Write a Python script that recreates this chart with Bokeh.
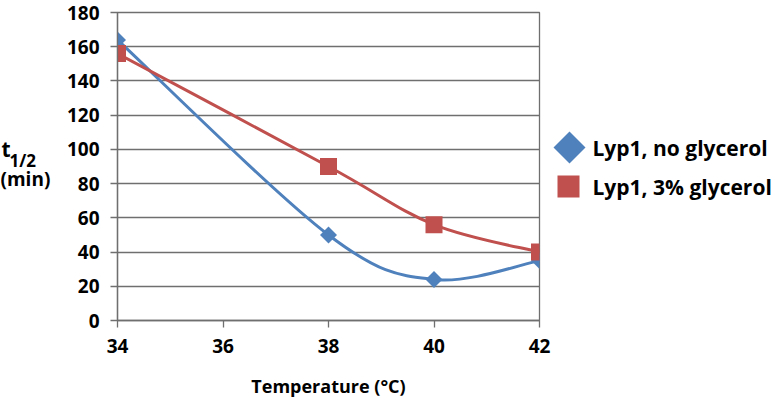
import numpy as np
from bokeh.plotting import figure
from bokeh.models import FixedTicker, Range1d
from bokeh.layouts import row
from bokeh.core.properties import value
from bokeh.embed import file_html
from bokeh.resources import INLINE

# ---- data ----
temps_no_glycerol = [34, 38, 40, 42]
thalf_no_glycerol = [164, 50, 24, 35]
temps_glycerol = [34, 38, 40, 42]
thalf_glycerol = [156, 90, 56, 40]
x_ticks = [34, 36, 38, 40, 42]
y_ticks = [0, 20, 40, 60, 80, 100, 120, 140, 160, 180]
series_names = ["Lyp1, no glycerol", "Lyp1, 3% glycerol"]
x_title = "Temperature (°C)"
y_title_main = "t"
y_title_sub = "1/2"
y_title_unit = "(min)"

BLUE = "#4F81BD"
RED = "#C0504D"
GRID = "#6f6f6f"
FONT = "Open Sans"
H = 400
TOP = 12      # frame top (px)
BOTTOM = 320  # frame bottom (px)


def sy(px):
    """screen y (px from top) -> value on the shared vertical scale"""
    return (BOTTOM - px) * (y_ticks[-1] - y_ticks[0]) / (BOTTOM - TOP) + y_ticks[0]


def smooth_segments(xs, ys):
    """Cubic Bezier segments (Catmull-Rom style smoothing, as in spreadsheet smoothed lines)."""
    xs = np.asarray(xs, float)
    ys = np.asarray(ys, float)
    n = len(xs)
    d = dict(x0=[], y0=[], x1=[], y1=[], cx0=[], cy0=[], cx1=[], cy1=[])
    for i in range(n - 1):
        a = max(i - 1, 0)
        b = min(i + 2, n - 1)
        d["x0"].append(xs[i]); d["y0"].append(ys[i])
        d["x1"].append(xs[i + 1]); d["y1"].append(ys[i + 1])
        d["cx0"].append(xs[i] + (xs[i + 1] - xs[a]) / 6)
        d["cy0"].append(ys[i] + (ys[i + 1] - ys[a]) / 6)
        d["cx1"].append(xs[i + 1] - (xs[b] - xs[i]) / 6)
        d["cy1"].append(ys[i + 1] - (ys[b] - ys[i]) / 6)
    return d


def blank_panel(w):
    f = figure(width=w, height=H, x_range=Range1d(0, w),
               y_range=Range1d(y_ticks[0], y_ticks[-1]),
               output_backend="svg", toolbar_location=None,
               min_border_left=0, min_border_right=0,
               min_border_top=TOP, min_border_bottom=H - BOTTOM,
               x_axis_location=None, y_axis_location=None)
    f.outline_line_color = None
    f.grid.visible = False
    f.background_fill_color = "white"
    f.border_fill_color = "white"
    return f


# ---- left panel: y axis title ----
yt = blank_panel(60)
yt.text([1], [sy(148)], text=[y_title_main], text_font=value(FONT), text_font_style="bold",
        text_font_size="21px", text_baseline="alphabetic", text_align="left", text_color="black")
yt.text([9], [sy(160)], text=[y_title_sub], text_font=value(FONT), text_font_style="bold",
        text_font_size="17px", text_baseline="alphabetic", text_align="left", text_color="black")
yt.text([0], [sy(178)], text=[y_title_unit], text_font=value(FONT), text_font_style="bold",
        text_font_size="19px", text_baseline="middle", text_align="left", text_color="black")

# ---- main plot ----
p = figure(width=492, height=H,
           x_range=Range1d(x_ticks[0], x_ticks[-1]),
           y_range=Range1d(y_ticks[0], y_ticks[-1]),
           output_backend="svg", toolbar_location=None,
           min_border_left=57, min_border_right=13,
           min_border_top=TOP, min_border_bottom=H - BOTTOM)
p.background_fill_color = "white"
p.border_fill_color = "white"
p.outline_line_color = GRID
p.outline_line_width = 1.3

p.xgrid.visible = False
p.ygrid.ticker = FixedTicker(ticks=y_ticks)
p.ygrid.grid_line_color = GRID
p.ygrid.grid_line_width = 1.3

for ax in (p.xaxis[0], p.yaxis[0]):
    ax.axis_line_color = GRID
    ax.axis_line_width = 1.3
    ax.major_tick_line_color = GRID
    ax.major_tick_line_width = 1.3
    ax.major_tick_out = 7
    ax.major_tick_in = 0
    ax.minor_tick_line_color = None
    ax.major_label_text_font = FONT
    ax.major_label_text_font_style = "bold"
    ax.major_label_text_font_size = "19px"
    ax.major_label_text_color = "black"

p.xaxis.ticker = FixedTicker(ticks=x_ticks)
p.yaxis.ticker = FixedTicker(ticks=y_ticks)
p.xaxis.major_label_standoff = 11
p.yaxis.major_label_standoff = 11
p.xaxis.axis_label = x_title
p.xaxis.axis_label_text_font = FONT
p.xaxis.axis_label_text_font_style = "bold"
p.xaxis.axis_label_text_font_size = "18px"
p.xaxis.axis_label_text_color = "black"
p.xaxis.axis_label_standoff = 18

# smoothed lines and markers
b1 = smooth_segments(temps_no_glycerol, thalf_no_glycerol)
p.bezier(line_color=BLUE, line_width=3, line_cap="round", **b1)
p.scatter(temps_no_glycerol, thalf_no_glycerol, marker="square", angle=np.pi / 4,
          size=12, fill_color=BLUE, line_color=None)

b2 = smooth_segments(temps_glycerol, thalf_glycerol)
p.bezier(line_color=RED, line_width=3, line_cap="round", **b2)
p.scatter(temps_glycerol, thalf_glycerol, marker="square",
          size=17, fill_color=RED, line_color=None)

# ---- legend panel ----
lg = blank_panel(224)
lg.scatter([17], [sy(147)], marker="square", angle=np.pi / 4, size=22.6,
           fill_color=BLUE, line_color=None)
lg.scatter([16], [sy(186)], marker="square", size=22,
           fill_color=RED, line_color=None)
lg.text([40, 40], [sy(147), sy(186)], text=series_names, text_font=value(FONT),
        text_font_style="bold", text_font_size="21px", text_baseline="middle",
        text_align="left", text_color="black")

layout = row(yt, p, lg)
open("out.html", "w").write(file_html(layout, INLINE))
